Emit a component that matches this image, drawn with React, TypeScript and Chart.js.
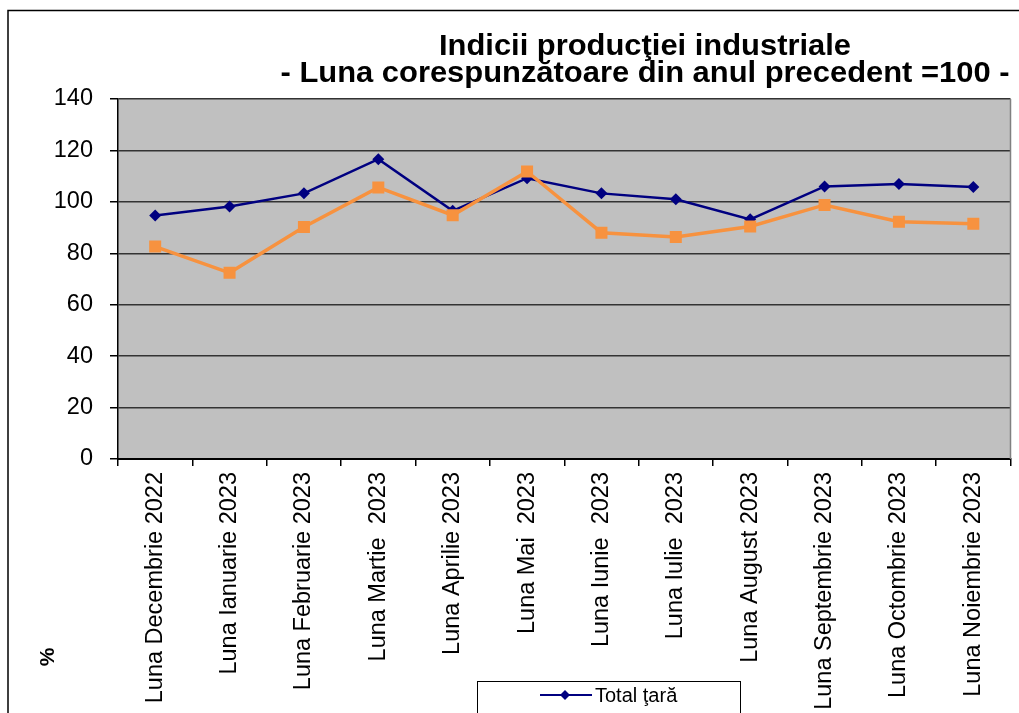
import React, { useEffect, useRef } from "react";
import { Chart, registerables } from "chart.js";

Chart.register(...registerables);

const categories = [
  "Luna Decembrie 2022",
  "Luna Ianuarie 2023",
  "Luna Februarie 2023",
  "Luna Martie  2023",
  "Luna Aprilie 2023",
  "Luna Mai  2023",
  "Luna Iunie  2023",
  "Luna Iulie  2023",
  "Luna August 2023",
  "Luna Septembrie 2023",
  "Luna Octombrie 2023",
  "Luna Noiembrie 2023",
];

const totalTara = [94.7, 98.2, 103.3, 116.6, 96.5, 109.2, 103.3, 101.0, 93.2, 106.0, 106.9, 105.8];
const industriaPrelucratoare = [82.6, 72.4, 90.2, 105.6, 94.8, 111.8, 88.0, 86.3, 90.4, 98.8, 92.3, 91.5];

const titleLines = ["Indicii producţiei industriale", "- Luna corespunzătoare din anul precedent =100 -"];
const yAxisTitle = "%";
const legendLabel = "Total ţară";
const yMin = 0;
const yMax = 140;
const yStep = 20;

const NAVY = "#000080";
const ORANGE = "#F7923F";
const PLOT_BG = "#C0C0C0";
const FONT = '"Liberation Sans", Arial, sans-serif';

const decor = {
  id: "decor",
  beforeDraw(chart: any) {
    const { ctx, chartArea: a } = chart;
    ctx.save();
    ctx.fillStyle = "#ffffff";
    ctx.fillRect(0, 0, chart.width, chart.height);
    ctx.fillStyle = PLOT_BG;
    ctx.fillRect(a.left, a.top, a.right - a.left, a.bottom - a.top);
    ctx.restore();
  },
  afterDraw(chart: any) {
    const { ctx, chartArea: a } = chart;
    ctx.save();
    // right border of plot
    ctx.strokeStyle = "#808080";
    ctx.lineWidth = 1.5;
    ctx.beginPath();
    ctx.moveTo(a.right, a.top);
    ctx.lineTo(a.right, a.bottom);
    ctx.stroke();

    // outer frame
    ctx.strokeStyle = "#000";
    ctx.lineWidth = 1.5;
    ctx.beginPath();
    ctx.moveTo(8, chart.height + 2);
    ctx.lineTo(8, 10.5);
    ctx.lineTo(chart.width + 2, 10.5);
    ctx.stroke();

    // title
    ctx.fillStyle = "#000";
    ctx.font = `bold 30px ${FONT}`;
    ctx.textAlign = "center";
    ctx.textBaseline = "alphabetic";
    const baselines = [55, 82];
    titleLines.forEach((t, i) => {
      ctx.save();
      ctx.translate(645, baselines[i]);
      ctx.scale(1.03, 1);
      ctx.fillText(t, 0, 0);
      ctx.restore();
    });

    // y axis title
    ctx.save();
    ctx.translate(48, 657);
    ctx.rotate(-Math.PI / 2);
    ctx.font = `bold 21px ${FONT}`;
    ctx.textAlign = "center";
    ctx.textBaseline = "middle";
    ctx.fillText(yAxisTitle, 0, 0);
    ctx.restore();

    // legend
    ctx.fillStyle = "#fff";
    ctx.fillRect(477, 681, 263, 40);
    ctx.strokeStyle = "#000";
    ctx.lineWidth = 1;
    ctx.strokeRect(477.5, 681.5, 263, 40);
    ctx.strokeStyle = NAVY;
    ctx.lineWidth = 2;
    ctx.beginPath();
    ctx.moveTo(540, 695);
    ctx.lineTo(592, 695);
    ctx.stroke();
    ctx.fillStyle = NAVY;
    ctx.beginPath();
    ctx.moveTo(565 - 5, 695);
    ctx.lineTo(565, 690);
    ctx.lineTo(565 + 5, 695);
    ctx.lineTo(565, 700);
    ctx.closePath();
    ctx.fill();
    ctx.fillStyle = "#000";
    ctx.font = `20px ${FONT}`;
    ctx.textAlign = "left";
    ctx.textBaseline = "middle";
    ctx.fillText(legendLabel, 595, 696);
    ctx.restore();
  },
};

export default function App() {
  const ref = useRef<HTMLCanvasElement | null>(null);

  useEffect(() => {
    if (!ref.current) return;
    const chart = new Chart(ref.current, {
      type: "line",
      data: {
        labels: categories,
        datasets: [
          {
            label: "Industria prelucrătoare",
            data: industriaPrelucratoare,
            borderColor: ORANGE,
            backgroundColor: ORANGE,
            borderWidth: 3.5,
            pointStyle: "rect",
            pointRadius: 8.5,
            pointBorderWidth: 0,
            tension: 0,
          },
          {
            label: legendLabel,
            data: totalTara,
            borderColor: NAVY,
            backgroundColor: NAVY,
            borderWidth: 2.5,
            pointStyle: "rectRot",
            pointRadius: 6,
            pointBorderWidth: 0,
            tension: 0,
          },
        ],
      },
      options: {
        responsive: false,
        animation: false,
        devicePixelRatio: 1,
        layout: { padding: { left: 0, top: 99, right: 6, bottom: 0 } },
        plugins: {
          legend: { display: false },
          title: { display: false },
          tooltip: { enabled: false },
        },
        scales: {
          x: {
            offset: true,
            grid: {
              offset: true,
              drawOnChartArea: false,
              drawTicks: true,
              tickLength: 7,
              color: "#000",
              lineWidth: 1.5,
            },
            border: { color: "#000", width: 2 },
            ticks: {
              autoSkip: false,
              minRotation: 90,
              maxRotation: 90,
              padding: 6,
              color: "#000",
              font: { family: FONT, size: 23.5 },
            },
            afterFit(scale: any) {
              scale.height = 254;
            },
          },
          y: {
            min: yMin,
            max: yMax,
            ticks: {
              stepSize: yStep,
              padding: 17,
              color: "#000",
              font: { family: FONT, size: 23.5 },
            },
            grid: {
              color: "#333",
              lineWidth: 1.5,
              tickLength: 8,
              tickColor: "#000",
            },
            border: { color: "#000", width: 1.5 },
            afterFit(scale: any) {
              scale.width = 118;
            },
          },
        },
      },
      plugins: [decor],
    });
    return () => chart.destroy();
  }, []);

  return (
    <div style={{ position: "fixed", left: 0, top: 0, width: 1019, height: 713, overflow: "hidden", background: "#fff" }}>
      <canvas ref={ref} width={1019} height={713} style={{ display: "block" }} />
    </div>
  );
}
